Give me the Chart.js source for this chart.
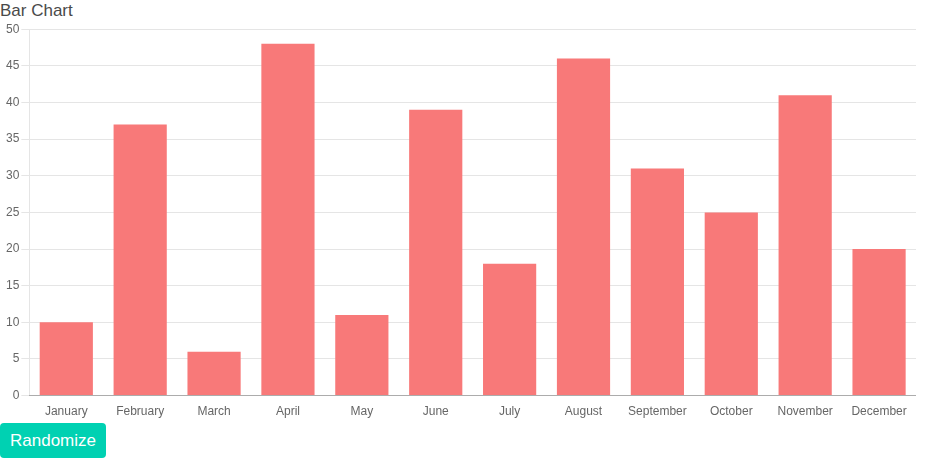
<!DOCTYPE html>
<html>
<head>
<meta charset="utf-8">
<script src="https://cdn.jsdelivr.net/npm/chart.js@4"></script>
<style>
  html, body { margin: 0; padding: 0; background: #fff; }
  body { font-family: "Helvetica Neue", Helvetica, "Liberation Sans", Arial, sans-serif; }
  .title { font-size: 17px; color: #4a4a4a; height: 20px; line-height: 22px; margin: 0; padding: 0; overflow: visible; }
  .wrap { width: 916px; height: 400px; position: relative; }
  .btn { display: block; margin-top: 3px; background: #00d1b2; color: #fff; border: none; border-radius: 4px;
         font-family: inherit; font-size: 17px; height: 35px; padding: 0 10px; line-height: 35px; cursor: pointer; }
</style>
</head>
<body>
<div class="title">Bar Chart</div>
<div class="wrap"><canvas id="c"></canvas></div>
<button class="btn">Randomize</button>
<script>
const categories = ["January","February","March","April","May","June","July","August","September","October","November","December"];
const values = [10, 37, 6, 48, 11, 39, 18, 46, 31, 25, 41, 20];
const seriesLabel = "Data One";

Chart.defaults.font.family = '"Helvetica Neue", Helvetica, "Liberation Sans", Arial, sans-serif';
Chart.defaults.font.size = 12;
Chart.defaults.color = '#666';

new Chart(document.getElementById('c'), {
  type: 'bar',
  data: {
    labels: categories,
    datasets: [{ label: seriesLabel, data: values, backgroundColor: '#f87979', borderWidth: 0 }]
  },
  options: {
    responsive: true,
    maintainAspectRatio: false,
    animation: false,
    layout: { padding: { left: 4, right: 0, top: 0, bottom: 0 } },
    plugins: { legend: { display: false }, tooltip: { enabled: false } },
    scales: {
      x: {
        grid: { display: false, drawOnChartArea: false },
        border: { display: true, color: 'rgba(0,0,0,0.25)' },
        ticks: { color: '#666', padding: 1 }
      },
      y: {
        min: 0, max: 50,
        ticks: { stepSize: 5, color: '#666', padding: 2 },
        grid: { color: 'rgba(0,0,0,0.1)', tickLength: 8 },
        border: { display: true, color: 'rgba(0,0,0,0.1)' }
      }
    }
  }
});
</script>
</body>
</html>
